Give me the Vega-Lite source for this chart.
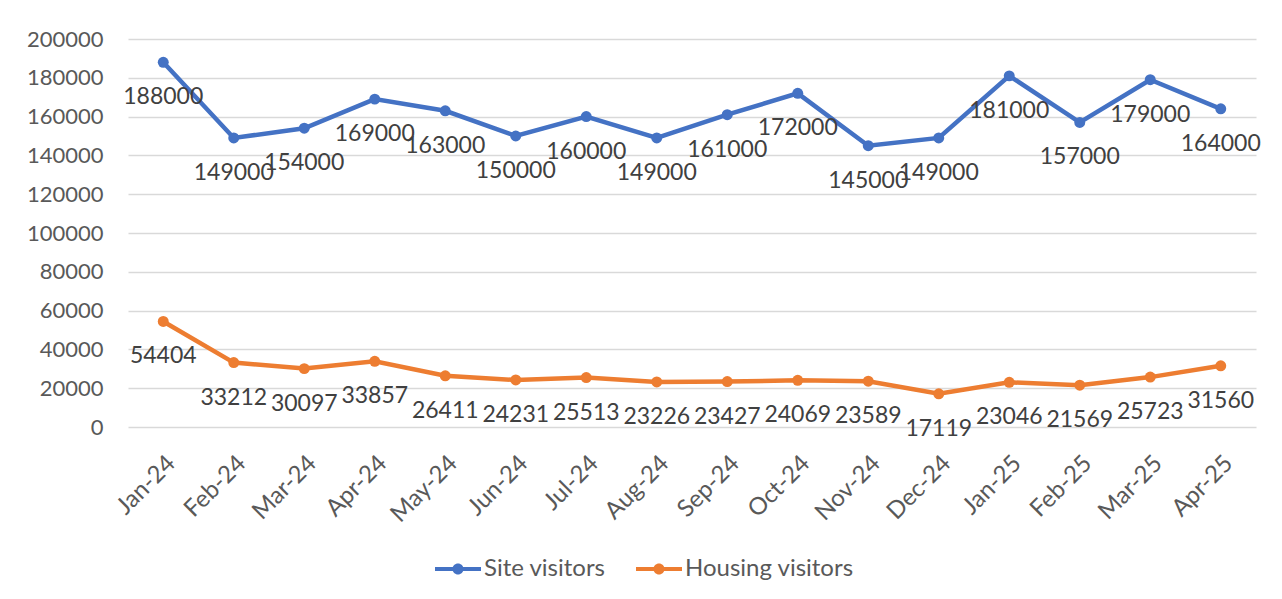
{
  "$schema": "https://vega.github.io/schema/vega-lite/v6.json",
  "autosize": {"type": "none"},
  "width": 1128,
  "height": 388,
  "padding": {"left": 128, "top": 39, "right": 26, "bottom": 172},
  "background": "white",
  "config": {
    "font": "Lato",
    "view": {"stroke": null},
    "axis": {"labelFont": "Lato", "labelColor": "#595959", "labelFontSize": 22, "domain": false, "ticks": false, "title": null}
  },
  "data": {
    "values": [
      {"month": "Jan-24", "series": "Site visitors", "value": 188000},
      {"month": "Feb-24", "series": "Site visitors", "value": 149000},
      {"month": "Mar-24", "series": "Site visitors", "value": 154000},
      {"month": "Apr-24", "series": "Site visitors", "value": 169000},
      {"month": "May-24", "series": "Site visitors", "value": 163000},
      {"month": "Jun-24", "series": "Site visitors", "value": 150000},
      {"month": "Jul-24", "series": "Site visitors", "value": 160000},
      {"month": "Aug-24", "series": "Site visitors", "value": 149000},
      {"month": "Sep-24", "series": "Site visitors", "value": 161000},
      {"month": "Oct-24", "series": "Site visitors", "value": 172000},
      {"month": "Nov-24", "series": "Site visitors", "value": 145000},
      {"month": "Dec-24", "series": "Site visitors", "value": 149000},
      {"month": "Jan-25", "series": "Site visitors", "value": 181000},
      {"month": "Feb-25", "series": "Site visitors", "value": 157000},
      {"month": "Mar-25", "series": "Site visitors", "value": 179000},
      {"month": "Apr-25", "series": "Site visitors", "value": 164000},
      {"month": "Jan-24", "series": "Housing visitors", "value": 54404},
      {"month": "Feb-24", "series": "Housing visitors", "value": 33212},
      {"month": "Mar-24", "series": "Housing visitors", "value": 30097},
      {"month": "Apr-24", "series": "Housing visitors", "value": 33857},
      {"month": "May-24", "series": "Housing visitors", "value": 26411},
      {"month": "Jun-24", "series": "Housing visitors", "value": 24231},
      {"month": "Jul-24", "series": "Housing visitors", "value": 25513},
      {"month": "Aug-24", "series": "Housing visitors", "value": 23226},
      {"month": "Sep-24", "series": "Housing visitors", "value": 23427},
      {"month": "Oct-24", "series": "Housing visitors", "value": 24069},
      {"month": "Nov-24", "series": "Housing visitors", "value": 23589},
      {"month": "Dec-24", "series": "Housing visitors", "value": 17119},
      {"month": "Jan-25", "series": "Housing visitors", "value": 23046},
      {"month": "Feb-25", "series": "Housing visitors", "value": 21569},
      {"month": "Mar-25", "series": "Housing visitors", "value": 25723},
      {"month": "Apr-25", "series": "Housing visitors", "value": 31560}
    ]
  },
  "encoding": {
    "x": {
      "field": "month", "type": "ordinal", "sort": null,
      "scale": {"type": "band", "paddingInner": 0, "paddingOuter": 0},
      "axis": {"labelAngle": -45, "labelPadding": 24, "labelFontSize": 24, "grid": false}
    },
    "y": {
      "field": "value", "type": "quantitative",
      "scale": {"domain": [0, 200000], "nice": false},
      "axis": {"values": [0, 20000, 40000, 60000, 80000, 100000, 120000, 140000, 160000, 180000, 200000], "format": "d", "labelPadding": 25, "grid": true, "gridColor": "#d9d9d9", "gridWidth": 1.3}
    },
    "color": {
      "field": "series", "type": "nominal",
      "scale": {"domain": ["Site visitors", "Housing visitors"], "range": ["#4472C4", "#ED7D31"]},
      "legend": {
        "title": null, "orient": "none", "legendX": 307, "legendY": 507, "direction": "horizontal",
        "labelFontSize": 24, "labelColor": "#595959", "labelFont": "Lato", "labelLimit": 400,
        "symbolType": "M-1,-0.09L1,-0.09L1,0.09L-1,0.09Z M-0.24,0A0.24,0.24 0 1,1 0.24,0A0.24,0.24 0 1,1 -0.24,0Z",
        "symbolSize": 2116, "symbolStrokeWidth": 0, "columnPadding": 30, "labelOffset": 3,
        "encode": {"symbols": {"update": {"fill": {"scale": "color", "field": "value"}, "fillOpacity": {"value": 1}, "strokeWidth": {"value": 0}}}}
      }
    }
  },
  "layer": [
    {"mark": {"type": "line", "strokeWidth": 4.5, "point": {"filled": true, "size": 120}}},
    {"mark": {"type": "text", "dy": 35, "fontSize": 23, "color": "#404040", "font": "Lato"}, "encoding": {"text": {"field": "value", "type": "quantitative", "format": "d"}, "color": {"value": "#404040"}}}
  ]
}
